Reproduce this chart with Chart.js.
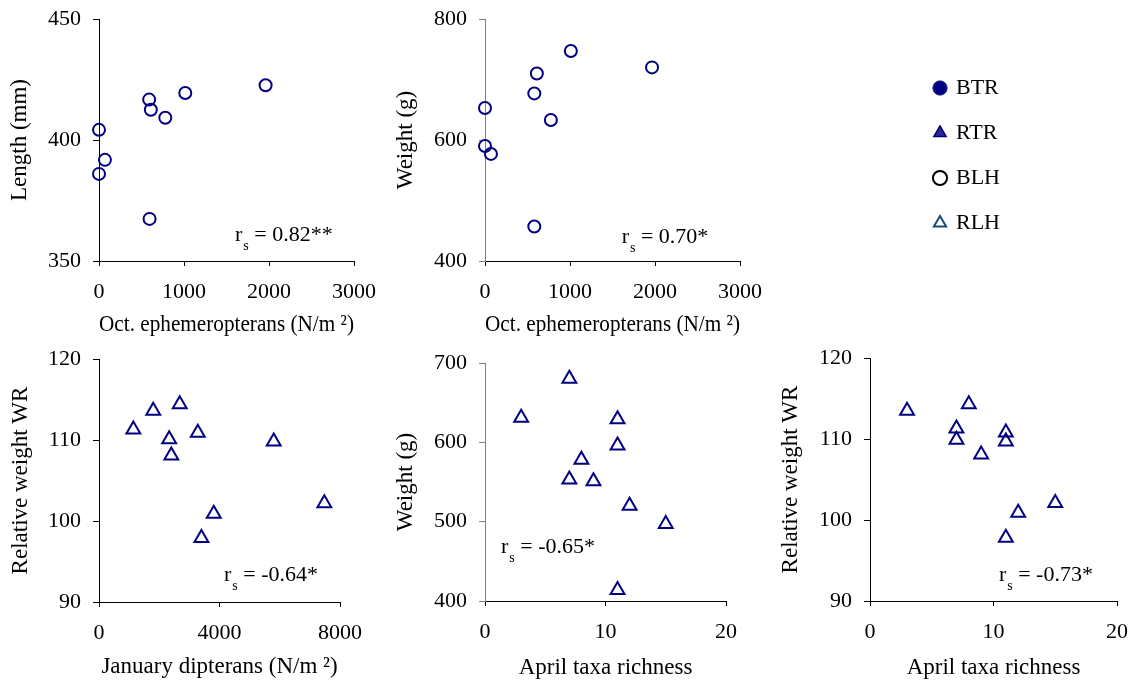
<!DOCTYPE html>
<html>
<head>
<meta charset="utf-8">
<title>Trout size and condition vs. invertebrates</title>
<script src="https://cdn.jsdelivr.net/npm/chart.js@4.4.0/dist/chart.umd.min.js"></script>
<style>
  html, body { margin: 0; padding: 0; background: #fff; overflow: hidden; }
  #wrap { position: relative; width: 1141px; height: 687px; overflow: hidden; }
  #wrap canvas { position: absolute; left: 0; top: 0; }
</style>
</head>
<body>
<div id="wrap">
  <canvas id="lenChart" width="1141" height="687"></canvas>
  <canvas id="wtChart" width="1141" height="687"></canvas>
  <canvas id="wrJanChart" width="1141" height="687"></canvas>
  <canvas id="wtAprChart" width="1141" height="687"></canvas>
  <canvas id="wrAprChart" width="1141" height="687"></canvas>
  <canvas id="legendChart" width="1141" height="687"></canvas>
</div>
<script>
// BLH: October ephemeropterans (N/m2) vs length and weight
var octEphemLen = [0, 0, 70, 590, 610, 780, 1015, 1960, 595];
var blhLength   = [404.2, 386.0, 391.8, 416.7, 412.5, 409.2, 419.4, 422.6, 367.4];
var octEphemWt  = [0, 0, 70, 580, 610, 775, 1010, 1965, 580];
var blhWeight   = [653, 590, 577, 677, 710, 633, 747, 720, 457];

// RLH: January dipterans (N/m2) vs relative weight
var janDipterans = [1140, 1800, 2680, 2330, 2400, 3280, 5800, 3810, 3400, 7480];
var rlhWrJan     = [111.3, 113.6, 114.4, 110.1, 108.1, 110.9, 109.8, 100.9, 97.9, 102.2];

// RLH: April taxa richness vs weight and relative weight
var aprTaxaWt  = [7, 3, 11, 11, 8, 7, 9, 12, 15, 11];
var rlhWeight  = [680, 631, 629, 596, 578, 553, 551, 520, 497, 414];
var aprTaxaWr  = [3, 7, 7, 8, 9, 11, 11, 12, 15, 11];
var rlhWrApr   = [113.5, 111.3, 109.9, 114.3, 108.1, 110.8, 109.7, 100.9, 102.1, 97.8];

// legend entries
var groups = ['BTR', 'RTR', 'BLH', 'RLH'];

var NAVY = '#000080';
var SERIF = '"Liberation Serif", "Times New Roman", serif';
var TITLE_SIZE = 23;

Chart.defaults.font.family = SERIF;
Chart.defaults.font.size = 22;
Chart.defaults.color = '#000';
Chart.defaults.animation = false;

// spearman r label: "r" + subscript "s" + " = value"
var rsLabel = {
    id: 'rsLabel',
    afterDraw: function(chart, args, opts) {
        if (!opts || !opts.text) return;
        var ctx = chart.ctx;
        var x = chart.scales.x.getPixelForValue(opts.x);
        var y = chart.scales.y.getPixelForValue(opts.y);
        ctx.save();
        ctx.fillStyle = '#000';
        ctx.textBaseline = 'alphabetic';
        ctx.textAlign = 'left';
        ctx.font = '22px ' + SERIF;
        ctx.fillText('r', x, y);
        x += ctx.measureText('r').width + 1;
        ctx.font = '14px ' + SERIF;
        ctx.fillText('s', x, y + 9);
        x += ctx.measureText('s').width;
        ctx.font = '22px ' + SERIF;
        ctx.fillText(' = ' + opts.text, x, y);
        ctx.restore();
    }
};
Chart.register(rsLabel);

function toPoints(xs, ys) {
    return xs.map(function(x, i) { return {x: x, y: ys[i]}; });
}

// box = plot area edges + axis title centres (page px)
function panel(id, box, xs, ys, o) {
    var half = TITLE_SIZE * 1.2 / 2;
    var yW = box.left - box.yTitle + half;
    var xH = box.xTitle + half - box.bottom;
    var yCol = o.yAxisColor || '#000';
    return new Chart(document.getElementById(id), {
        type: 'scatter',
        data: {
            datasets: [{
                data: toPoints(xs, ys),
                pointStyle: o.pointStyle,
                pointRadius: o.pointRadius,
                pointHoverRadius: o.pointRadius,
                borderColor: NAVY,
                backgroundColor: 'rgba(255,255,255,0)',
                borderWidth: 2,
                clip: false
            }]
        },
        options: {
            responsive: false,
            events: [],
            layout: {
                padding: {
                    left: box.yTitle - half,
                    top: box.top,
                    right: 1141 - box.right,
                    bottom: 687 - box.bottom - xH
                }
            },
            plugins: {
                legend: { display: false },
                tooltip: { enabled: false },
                rsLabel: o.rs
            },
            scales: {
                x: {
                    type: 'linear',
                    position: 'bottom',
                    min: o.xMin, max: o.xMax,
                    ticks: { stepSize: o.xStep, padding: 13, maxRotation: 0, autoSkip: false,
                             callback: function(v) { return String(v); } },
                    grid: { drawOnChartArea: false, tickLength: 5, color: '#000' },
                    border: { color: '#000', width: 1 },
                    title: { display: true, text: o.xTitle, padding: 0, font: { size: TITLE_SIZE } },
                    afterFit: function(s) { s.height = xH; }
                },
                y: {
                    type: 'linear',
                    position: 'left',
                    min: o.yMin, max: o.yMax,
                    ticks: { stepSize: o.yStep, padding: 12, autoSkip: false,
                             callback: function(v) { return String(v); } },
                    grid: { drawOnChartArea: false, tickLength: 6, color: yCol },
                    border: { color: yCol, width: 1 },
                    title: { display: true, text: o.yTitle, padding: 0, font: { size: TITLE_SIZE } },
                    afterFit: function(s) {
                        s.width = yW;
                        // plot top/bottom come from the layout padding
                        s.paddingTop = 0;
                        s.paddingBottom = 0;
                    }
                }
            }
        }
    });
}

// top row
panel('lenChart', {left: 99, right: 354, top: 19, bottom: 261, yTitle: 20, xTitle: 325},
    octEphemLen, blhLength, {
        pointStyle: 'circle', pointRadius: 6,
        xMin: 0, xMax: 3000, xStep: 1000, yMin: 350, yMax: 450, yStep: 50,
        xTitle: 'Oct. ephemeropterans (N/m \u00b2)', yTitle: 'Length (mm)',
        rs: { text: '0.82**', x: 1600, y: 358.3 }
    });

panel('wtChart', {left: 485, right: 740, top: 19, bottom: 261, yTitle: 406, xTitle: 325},
    octEphemWt, blhWeight, {
        pointStyle: 'circle', pointRadius: 6, yAxisColor: '#808080',
        xMin: 0, xMax: 3000, xStep: 1000, yMin: 400, yMax: 800, yStep: 200,
        xTitle: 'Oct. ephemeropterans (N/m \u00b2)', yTitle: 'Weight (g)',
        rs: { text: '0.70*', x: 1608, y: 430.4 }
    });

// bottom row
panel('wrJanChart', {left: 99, right: 340, top: 359, bottom: 602, yTitle: 21, xTitle: 667},
    janDipterans, rlhWrJan, {
        pointStyle: 'triangle', pointRadius: 8,
        xMin: 0, xMax: 8000, xStep: 4000, yMin: 90, yMax: 120, yStep: 10,
        xTitle: 'January dipterans (N/m \u00b2)', yTitle: 'Relative weight WR',
        rs: { text: '-0.64*', x: 4149, y: 92.6 }
    });

panel('wtAprChart', {left: 485, right: 726, top: 363, bottom: 601, yTitle: 406, xTitle: 668},
    aprTaxaWt, rlhWeight, {
        pointStyle: 'triangle', pointRadius: 8, yAxisColor: '#808080',
        xMin: 0, xMax: 20, xStep: 10, yMin: 400, yMax: 700, yStep: 100,
        xTitle: 'April taxa richness', yTitle: 'Weight (g)',
        rs: { text: '-0.65*', x: 1.33, y: 460 }
    });

panel('wrAprChart', {left: 870, right: 1123, top: 358, bottom: 601, yTitle: 791, xTitle: 668},
    aprTaxaWr, rlhWrApr, {
        pointStyle: 'triangle', pointRadius: 8,
        xMin: 0, xMax: 20, xStep: 10, yMin: 90, yMax: 120, yStep: 10,
        xTitle: 'April taxa richness', yTitle: 'Relative weight WR',
        rs: { text: '-0.73*', x: 10.44, y: 92.5 }
    });

// legend only (empty datasets)
var legendStyles = [
    { pointStyle: 'circle',   backgroundColor: NAVY,      borderColor: NAVY,      borderWidth: 1 },
    { pointStyle: 'triangle', backgroundColor: '#2b2b8f', borderColor: NAVY,      borderWidth: 1.5 },
    { pointStyle: 'circle',   backgroundColor: '#fff',    borderColor: '#000',    borderWidth: 2 },
    { pointStyle: 'triangle', backgroundColor: '#fff',    borderColor: '#1a4a78', borderWidth: 2 }
];
new Chart(document.getElementById('legendChart'), {
    type: 'scatter',
    data: {
        datasets: groups.map(function(g, i) {
            return Object.assign({ label: g, data: [] }, legendStyles[i]);
        })
    },
    options: {
        responsive: false,
        events: [],
        layout: { padding: { left: 912, top: 54 } },
        scales: { x: { display: false }, y: { display: false } },
        plugins: {
            tooltip: { enabled: false },
            legend: {
                position: 'left',
                align: 'start',
                labels: {
                    usePointStyle: true,
                    boxWidth: 10,
                    boxHeight: 10,
                    padding: 23,
                    color: '#000',
                    font: { size: 22 }
                }
            }
        }
    }
});
</script>
</body>
</html>
